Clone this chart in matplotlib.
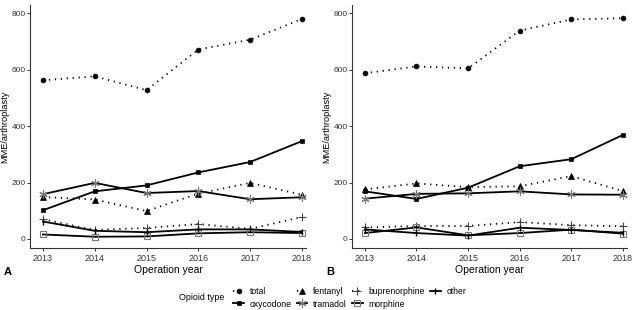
import numpy as np
import matplotlib
matplotlib.use("Agg")
import matplotlib.pyplot as plt
from matplotlib.lines import Line2D

plt.rcParams['font.family'] = ['Liberation Sans', 'DejaVu Sans']

years = [2013, 2014, 2015, 2016, 2017, 2018]

# panel A
a_total = [563, 577, 528, 672, 707, 780]
a_oxycodone = [102, 169, 190, 236, 273, 347]
a_fentanyl = [149, 140, 99, 161, 199, 157]
a_tramadol = [159, 199, 163, 170, 141, 148]
a_buprenorphine = [70, 32, 39, 53, 36, 78]
a_morphine = [16, 8, 9, 20, 24, 21]
a_other = [62, 29, 24, 34, 34, 25]

# panel B
b_total = [588, 612, 605, 739, 779, 783]
b_oxycodone = [169, 142, 182, 258, 283, 369]
b_fentanyl = [176, 197, 184, 187, 223, 170]
b_tramadol = [143, 160, 162, 169, 158, 157]
b_buprenorphine = [41, 46, 46, 60, 49, 45]
b_morphine = [21, 41, 13, 21, 33, 19]
b_other = [34, 21, 12, 40, 32, 22]

series_names = ['total', 'oxycodone', 'fentanyl', 'tramadol',
                'buprenorphine', 'morphine', 'other']

dot = (0, (0.7, 2.6))
styles = {
    'total':         dict(ls=dot, marker='o', ms=3.5, mfc='black', mec='black'),
    'oxycodone':     dict(ls='-', marker='s', ms=3.5, mfc='black', mec='black'),
    'fentanyl':      dict(ls=dot, marker='^', ms=4, mfc='black', mec='black'),
    'tramadol':      dict(ls='-', marker=(6, 2, 0), ms=6, mfc='none', mec='#777777', mew=0.8),
    'buprenorphine': dict(ls=dot, marker='+', ms=6, mfc='none', mec='#444444', mew=0.8),
    'morphine':      dict(ls='-', marker='s', ms=4, mfc='none', mec='#777777', mew=0.8),
    'other':         dict(ls='-', marker='|', ms=4, mfc='black', mec='black', mew=1),
}

panels = [
    dict(total=a_total, oxycodone=a_oxycodone, fentanyl=a_fentanyl, tramadol=a_tramadol,
         buprenorphine=a_buprenorphine, morphine=a_morphine, other=a_other),
    dict(total=b_total, oxycodone=b_oxycodone, fentanyl=b_fentanyl, tramadol=b_tramadol,
         buprenorphine=b_buprenorphine, morphine=b_morphine, other=b_other),
]

fig = plt.figure(figsize=(6.39, 3.10), dpi=100)
ax_a = fig.add_axes([30 / 639, 62 / 310, 276 / 639, 243 / 310])
ax_b = fig.add_axes([352 / 639, 62 / 310, 275 / 639, 243 / 310])

spine_col = '#333333'
for ax, data, letter in zip([ax_a, ax_b], panels, ['A', 'B']):
    for name in series_names:
        st = styles[name]
        ax.plot(years, data[name], color='black', lw=1.3, linestyle=st['ls'],
                marker=st['marker'], markersize=st['ms'], markerfacecolor=st['mfc'],
                markeredgecolor=st['mec'], markeredgewidth=st.get('mew', 0.5),
                clip_on=False)
    ax.set_xlim(2012.75, 2018.08)
    ax.set_ylim(-32, 830)
    ax.set_xticks(years)
    ax.set_yticks([0, 200, 400, 600, 800])
    for s in ['top', 'right']:
        ax.spines[s].set_visible(False)
    for s in ['left', 'bottom']:
        ax.spines[s].set_color(spine_col)
        ax.spines[s].set_linewidth(0.8)
    ax.tick_params(axis='x', labelsize=6.5, colors=spine_col, length=2.5, width=0.7,
                   pad=1.5, labelcolor='#333333')
    ax.tick_params(axis='y', labelsize=6, colors=spine_col, length=2, width=0.7,
                   pad=1, labelcolor='#333333')
    ax.set_xlabel('Operation year', fontsize=7.5, labelpad=1.5)
    ax.set_ylabel('MME/arthroplasty', fontsize=6.6)
    ax.yaxis.set_label_coords(-21 / 276, 0.5)
    ax.text(-0.095, -0.1, letter, transform=ax.transAxes, fontsize=8,
            fontweight='bold', ha='left', va='center')

handles = []
for name in series_names:
    st = styles[name]
    handles.append(Line2D([0], [0], color='black', lw=1.3, linestyle=st['ls'],
                          marker=st['marker'], markersize=st['ms'],
                          markerfacecolor=st['mfc'], markeredgecolor=st['mec'],
                          markeredgewidth=st.get('mew', 0.5), label=name))

fig.legend(handles=handles, loc='center', bbox_to_anchor=(350 / 639, 1 - 298 / 310),
           ncol=4, frameon=False, fontsize=6.2, handlelength=1.2, handletextpad=0.7,
           columnspacing=0.6, labelspacing=0.35, borderpad=0)
fig.text(202 / 639, 1 - 297 / 310, 'Opioid type', fontsize=6.4, ha='center', va='center')

fig.savefig('out.png', dpi=100)
